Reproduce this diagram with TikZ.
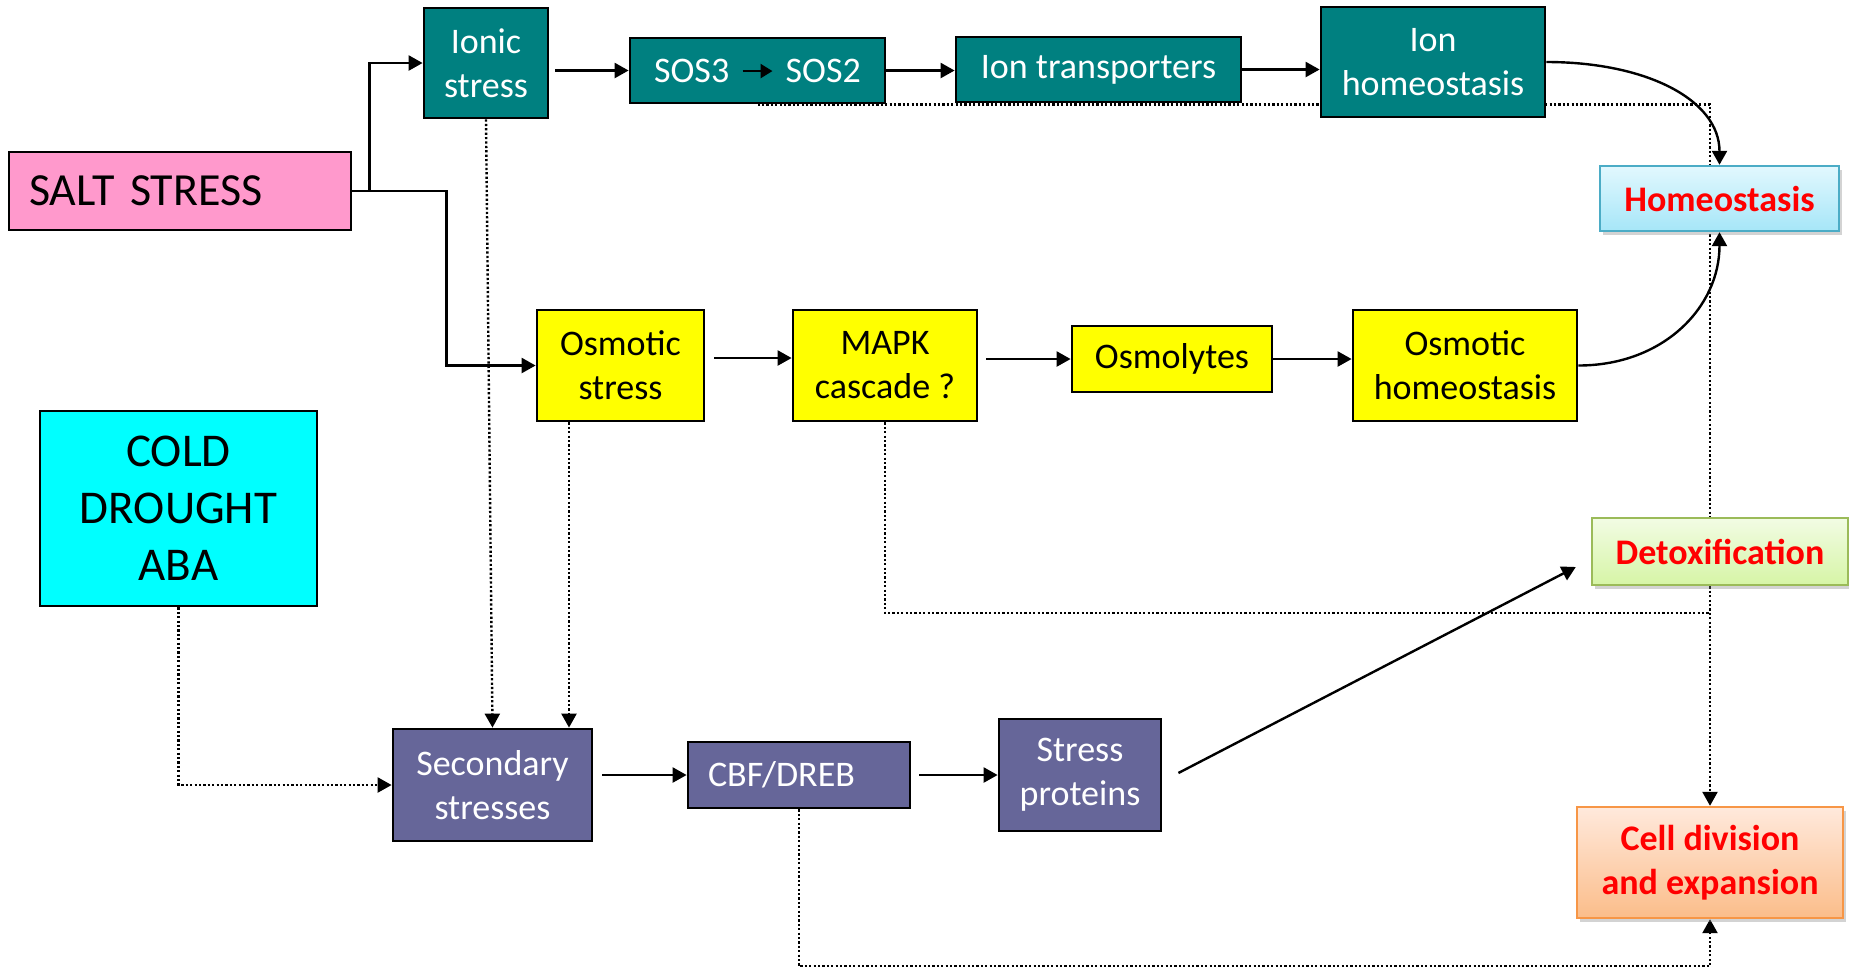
\documentclass[tikz,border=0pt]{standalone}
\usepackage{fontspec}
\setmainfont{Carlito}
\usetikzlibrary{arrows.meta,shadows,backgrounds}
\definecolor{cTeal}{HTML}{008080}
\definecolor{cPink}{HTML}{FF99CC}
\definecolor{cYellow}{HTML}{FFFF00}
\definecolor{cCyan}{HTML}{00FFFF}
\definecolor{cPurple}{HTML}{666699}
\definecolor{cHomBorder}{HTML}{4BACC6}
\definecolor{cHomTop}{HTML}{E2F8FE}
\definecolor{cHomBot}{HTML}{A6E6F8}
\definecolor{cDetBorder}{HTML}{9BBB59}
\definecolor{cDetTop}{HTML}{F2FCE4}
\definecolor{cDetBot}{HTML}{D6F5A6}
\definecolor{cCellBorder}{HTML}{F79646}
\definecolor{cCellTop}{HTML}{FFE9DC}
\definecolor{cCellBot}{HTML}{FBBD8A}
\definecolor{cRed}{HTML}{FF0000}
\begin{document}
\begin{tikzpicture}[x=0.5pt,y=-0.5pt,
  box/.style={draw=black, line width=1.4pt, align=center, inner sep=0pt,
    font=\fontsize{18}{22}\selectfont},
  tealbox/.style={box, fill=cTeal, text=white},
  yelbox/.style={box, fill=cYellow, text=black},
  purbox/.style={box, fill=cPurple, text=white},
  outbox/.style={box, line width=1.2pt, text=cRed,
    font=\bfseries\fontsize{18}{22}\selectfont,
    drop shadow={shadow xshift=1.5pt, shadow yshift=-2pt, opacity=0.35}},
  tip/.style={-{Triangle[length=7pt,width=7.5pt]}},
  arr/.style={line width=1.2pt, tip},
  dotline/.style={line width=1.2pt, dash pattern=on 1.1pt off 1.1pt},
  dotarr/.style={dotline, tip},
]
\useasboundingbox (0,0) rectangle (1849,966);

% input boxes
\node[box, fill=cPink, minimum width=171pt, minimum height=39pt, text width=151pt,
  inner xsep=10pt, align=left, font=\fontsize{23}{27}\selectfont] (salt) at (180,191) {SALT STRESS};
\node[box, fill=cCyan, minimum width=138.5pt, minimum height=97.5pt,
  font=\fontsize{23.5}{28.5}\selectfont] (cold) at (178.5,508.5) {COLD\\DROUGHT\\ABA};

% ionic branch
\node[tealbox, minimum width=62pt, minimum height=55pt] (ionic) at (486,63) {Ionic\\stress};
\node[tealbox, minimum width=127.5pt, minimum height=32.5pt] (sos) at (757.5,70.5)
  {SOS3\hspace{6pt}\tikz[baseline=-5.5pt]\draw[black, line width=1.2pt,-{Triangle[length=6pt,width=7pt]}] (0pt,0pt) -- (15pt,0pt);\hspace{6pt}SOS2};
\node[tealbox, minimum width=142.5pt, minimum height=32.5pt] (iontr) at (1098.5,69.5) {Ion transporters};
\node[tealbox, minimum width=112pt, minimum height=55pt] (ionh) at (1433,62) {Ion\\homeostasis};

% osmotic branch
\node[yelbox, minimum width=83.5pt, minimum height=55.5pt] (osms) at (620.5,365.5) {Osmotic\\stress};
\node[yelbox, minimum width=92pt, minimum height=55.5pt] (mapk) at (885,365.5) {MAPK\\cascade ?};
\node[yelbox, minimum width=100pt, minimum height=33pt] (osmol) at (1172,359) {Osmolytes};
\node[yelbox, minimum width=112pt, minimum height=55.5pt] (osmh) at (1465,365.5) {Osmotic\\homeostasis};

% secondary branch
\node[purbox, minimum width=99.5pt, minimum height=56pt] (second) at (492.5,785) {Secondary\\stresses};
\node[purbox, minimum width=111pt, minimum height=33pt, text width=91pt,
  inner xsep=10pt, align=left] (cbf) at (799,775) {CBF/DREB};
\node[purbox, minimum width=81pt, minimum height=56pt] (stressp) at (1080,775) {Stress\\proteins};

% outcomes
\node[outbox, draw=cHomBorder, top color=cHomTop, bottom color=cHomBot,
  minimum width=119.5pt, minimum height=32.5pt] (homeo) at (1719.5,198.5) {Homeostasis};
\node[outbox, draw=cDetBorder, top color=cDetTop, bottom color=cDetBot,
  minimum width=128pt, minimum height=33.5pt] (detox) at (1720,551.5) {Detoxification};
\node[outbox, draw=cCellBorder, top color=cCellTop, bottom color=cCellBot,
  minimum width=133pt, minimum height=55.5pt] (cell) at (1710,862.5) {Cell division\\and expansion};

\coordinate (mapkjoin) at (1710,613);

% dotted connectors, behind the boxes
\begin{scope}[on background layer]
\draw[dotarr] (sos.south) -| (cell.north);
\draw[dotline] (mapk.south) |- (mapkjoin);
\draw[dotarr] (cbf.south) -- ++(0,157) -| (cell.south);
\draw[dotarr] (ionic.south) -- (second.north);
\draw[dotarr] ([xshift=-25.75pt]osms.south) -- ([xshift=-25.75pt]osms.south |- second.north);
\draw[dotarr] (cold.south) |- (second.west);
\end{scope}

% solid connectors
\draw[arr] (salt.east) -- ++(17,0) |- (ionic.west);
\draw[arr] (salt.east) -- ++(94,0) |- (osms.west);
\draw[arr] ([xshift=3pt]ionic.east |- sos.west) -- (sos.west);
\draw[arr] (sos.east) -- (sos.east -| iontr.west);
\draw[arr] (iontr.east) -- (iontr.east -| ionh.west);
\draw[arr] (ionh.east) .. controls +(100,0) and +(0,-65) .. (homeo.north);
\draw[arr] ([shift={(9,-7.5)}]osms.east) -- ([yshift=3.75pt]mapk.west);
\draw[arr] ([xshift=4pt]mapk.east |- osmol.west) -- (osmol.west);
\draw[arr] (osmol.east) -- (osmol.east -| osmh.west);
\draw[arr] (osmh.east) .. controls +(85,0) and +(0,75) .. (homeo.south);
\draw[arr] ([xshift=4.5pt]second.east |- cbf.west) -- (cbf.west);
\draw[arr] ([xshift=4pt]cbf.east) -- (stressp.west);
\draw[arr] ([shift={(16,-2)}]stressp.east) -- ([shift={(-15,15.5)}]detox.west);
\end{tikzpicture}
\end{document}
